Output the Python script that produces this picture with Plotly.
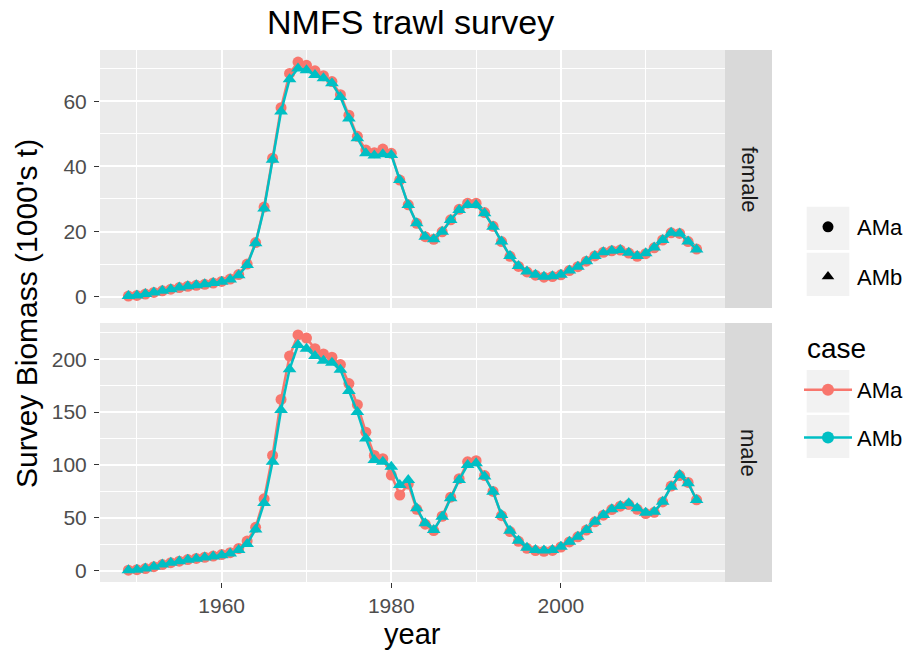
import plotly.graph_objects as go

# ---------------- data ----------------
years = list(range(1949, 2017))

female_AMb = [0.2, 0.4, 0.8, 1.3, 1.8, 2.3, 2.8, 3.2, 3.5, 3.8, 4.2, 4.6, 5.3, 6.6, 9.7, 16.4,
              27.1, 42.0, 56.8, 66.7, 70.0, 69.5, 68.0, 67.0, 65.5, 61.3, 54.7, 48.6, 44.0, 43.3,
              43.7, 43.5, 35.8, 28.1, 22.5, 18.4, 17.6, 19.9, 23.5, 26.6, 28.1, 28.1, 25.6, 21.5,
              16.9, 12.5, 9.4, 7.7, 6.7, 6.1, 6.3, 6.7, 8.0, 9.2, 10.9, 12.5, 13.6, 14.1,
              14.3, 13.5, 12.5, 13.3, 15.1, 17.4, 19.6, 19.4, 16.9, 14.5]
female_AMa = [0.2, 0.4, 0.8, 1.3, 1.8, 2.3, 2.8, 3.2, 3.5, 3.8, 4.2, 4.7, 5.4, 6.8, 10.0, 16.6,
              27.5, 42.5, 58.0, 68.5, 72.0, 71.0, 69.3, 67.8, 66.0, 62.0, 55.7, 49.2, 45.0, 44.2,
              45.3, 44.0, 35.8, 28.2, 22.5, 18.4, 17.6, 19.9, 23.6, 26.8, 28.7, 28.7, 25.8, 21.6,
              16.9, 12.4, 9.3, 7.6, 6.6, 6.0, 6.2, 6.7, 8.0, 9.2, 10.9, 12.5, 13.6, 14.1,
              14.3, 13.4, 12.4, 13.2, 15.0, 17.4, 19.6, 19.4, 16.9, 14.6]

male_AMb = [0.5, 1.0, 2.0, 3.8, 5.8, 7.6, 9.0, 10.3, 11.4, 12.4, 13.4, 14.6, 16.2, 19.6, 25.3, 39.0,
            64.0, 103.0, 152.0, 190.5, 213.5, 210.0, 203.0, 198.7, 196.8, 190.0, 170.0, 150.0, 125.0, 104.7,
            103.0, 98.4, 81.0, 85.8, 59.0, 44.8, 38.5, 51.0, 68.5, 85.8, 100.0, 101.6, 89.0, 74.7,
            52.7, 37.8, 28.4, 21.8, 19.6, 19.0, 19.6, 22.7, 27.4, 32.2, 38.5, 46.4, 52.7, 58.0,
            61.2, 63.8, 59.0, 54.9, 55.8, 65.3, 79.5, 90.5, 82.7, 66.9]
male_AMa = [0.5, 1.0, 2.0, 3.8, 5.8, 7.6, 9.0, 10.5, 11.6, 12.7, 13.8, 15.2, 17.0, 21.0, 28.0, 41.0,
            68.0, 109.0, 162.0, 203.0, 223.0, 220.0, 210.0, 205.0, 202.0, 195.0, 177.0, 157.0, 131.0, 109.0,
            106.0, 90.5, 71.6, 82.0, 58.0, 44.0, 38.0, 51.5, 69.5, 87.0, 103.0, 104.0, 90.0, 75.0,
            52.0, 37.0, 27.8, 21.2, 19.0, 18.4, 19.2, 22.4, 27.2, 32.0, 38.4, 46.2, 52.5, 57.8,
            61.0, 62.5, 58.0, 54.0, 55.2, 65.0, 80.0, 90.0, 83.5, 67.0]

cases = ["AMa", "AMb"]
case_colors = {"AMa": "#F8766D", "AMb": "#00BFC4"}
case_symbols = {"AMa": "circle", "AMb": "triangle-up"}
panels = ["female", "male"]
female_ticks = [0, 20, 40, 60]
male_ticks = [0, 50, 100, 150, 200]
year_ticks = [1960, 1980, 2000]

# ---------------- layout geometry (pixels) ----------------
W, H = 910, 655
FONT = "Liberation Sans, Arial, Helvetica, sans-serif"
PX_L, PX_R = 100, 725
P1_T, P1_B = 50, 308
P2_T, P2_B = 323, 582
STRIP_R = 772


def px(x):
    return x / W


def py(y):
    return 1 - y / H


fig = go.Figure()

series = {
    ("female", "AMa"): female_AMa, ("female", "AMb"): female_AMb,
    ("male", "AMa"): male_AMa, ("male", "AMb"): male_AMb,
}
for pi, panel in enumerate(panels):
    xa = "x" if pi == 0 else "x2"
    ya = "y" if pi == 0 else "y2"
    for c in cases:
        fig.add_trace(go.Scatter(
            x=years, y=series[(panel, c)], mode="lines+markers",
            line=dict(color=case_colors[c], width=2.5),
            marker=dict(symbol=case_symbols[c], color=case_colors[c],
                        size=11 if c == "AMa" else 12, line=dict(width=0)),
            xaxis=xa, yaxis=ya, showlegend=False, hoverinfo="skip"))

# legend 1: shape
for c in cases:
    fig.add_trace(go.Scatter(
        x=[None], y=[None], mode="markers", name=c,
        marker=dict(symbol=case_symbols[c], color="black", size=11),
        legend="legend", legendgroup="s" + c, showlegend=True))
# legend 2: case
for c in cases:
    fig.add_trace(go.Scatter(
        x=[None], y=[None], mode="lines+markers", name=c,
        line=dict(color=case_colors[c], width=2.5),
        marker=dict(symbol="circle", color=case_colors[c], size=12),
        legend="legend2", legendgroup="c" + c, showlegend=True))

tickfont = dict(family=FONT, size=21, color="#4D4D4D")
common_x = dict(range=[1945.65, 2019.35], domain=[px(PX_L), px(PX_R)],
                tickvals=year_ticks, showgrid=True, gridcolor="white", gridwidth=1.8,
                zeroline=False, showline=False,
                minor=dict(tickvals=[1950, 1970, 1990, 2010], showgrid=True,
                           gridcolor="white", gridwidth=0.9))

shapes = []
# strips
for (t, b) in [(P1_T, P1_B), (P2_T, P2_B)]:
    shapes.append(dict(type="rect", xref="paper", yref="paper", x0=px(PX_R), x1=px(STRIP_R),
                       y0=py(b), y1=py(t), fillcolor="#D9D9D9", line=dict(width=0), layer="below"))
# legend key backgrounds
for (t, b) in [(206.7, 250), (252.7, 296), (370, 412.5), (415, 458)]:
    shapes.append(dict(type="rect", xref="paper", yref="paper", x0=px(806.7), x1=px(849.3),
                       y0=py(b), y1=py(t), fillcolor="#F2F2F2", line=dict(width=0), layer="below"))

annotations = [
    dict(text="NMFS trawl survey", x=px(410), y=py(22), xref="paper", yref="paper",
         showarrow=False, xanchor="center", yanchor="middle",
         font=dict(family=FONT, size=34, color="black")),
    dict(text="Survey Biomass (1000's t)", x=px(27), y=py(314), xref="paper", yref="paper",
         showarrow=False, textangle=-90, xanchor="center", yanchor="middle",
         font=dict(family=FONT, size=30, color="black")),
    dict(text="year", x=px(412.5), y=py(634), xref="paper", yref="paper",
         showarrow=False, xanchor="center", yanchor="middle",
         font=dict(family=FONT, size=29, color="black")),
    dict(text="female", x=px((PX_R + STRIP_R) / 2), y=py((P1_T + P1_B) / 2), xref="paper", yref="paper",
         showarrow=False, textangle=90, xanchor="center", yanchor="middle",
         font=dict(family=FONT, size=22, color="#1A1A1A")),
    dict(text="male", x=px((PX_R + STRIP_R) / 2), y=py((P2_T + P2_B) / 2), xref="paper", yref="paper",
         showarrow=False, textangle=90, xanchor="center", yanchor="middle",
         font=dict(family=FONT, size=22, color="#1A1A1A")),
    # legend title for the "case" legend
    dict(text="case", x=px(805), y=py(348), xref="paper", yref="paper",
         showarrow=False, xanchor="left", yanchor="middle",
         font=dict(family=FONT, size=28, color="black")),
]

fig.update_layout(
    width=W, height=H, autosize=False,
    margin=dict(l=0, r=0, t=0, b=0, pad=0),
    paper_bgcolor="white", plot_bgcolor="#EBEBEB",
    font=dict(family=FONT),
    xaxis=dict(**common_x, anchor="y", showticklabels=False, ticks=""),
    xaxis2=dict(**common_x, anchor="y2", matches="x", ticks="outside", ticklen=5,
                tickwidth=1.3, tickcolor="#333333", tickfont=tickfont),
    yaxis=dict(range=[-3.47, 75.7], domain=[py(P1_B), py(P1_T)], anchor="x",
               tickvals=female_ticks, showgrid=True, gridcolor="white", gridwidth=1.8,
               zeroline=False, showline=False, ticks="outside", ticklen=5, tickwidth=1.3,
               tickcolor="#333333", tickfont=tickfont, ticklabelstandoff=3,
               minor=dict(tickvals=[10, 30, 50, 70], showgrid=True, gridcolor="white", gridwidth=0.9)),
    yaxis2=dict(range=[-10.7, 234.3], domain=[py(P2_B), py(P2_T)], anchor="x2",
                tickvals=male_ticks, showgrid=True, gridcolor="white", gridwidth=1.8,
                zeroline=False, showline=False, ticks="outside", ticklen=5, tickwidth=1.3,
                tickcolor="#333333", tickfont=tickfont, ticklabelstandoff=3,
                minor=dict(tickvals=[25, 75, 125, 175, 225], showgrid=True, gridcolor="white",
                           gridwidth=0.9)),
    legend=dict(x=px(799), y=py(206), xanchor="left", yanchor="top",
                bgcolor="rgba(0,0,0,0)", tracegroupgap=18, itemwidth=48,
                font=dict(family=FONT, size=22, color="black")),
    legend2=dict(x=px(799), y=py(369), xanchor="left", yanchor="top",
                 bgcolor="rgba(0,0,0,0)", tracegroupgap=16, itemwidth=48,
                 font=dict(family=FONT, size=22, color="black")),
    shapes=shapes, annotations=annotations,
    hovermode=False,
)

fig.write_html("out.html", config={"displayModeBar": False})
